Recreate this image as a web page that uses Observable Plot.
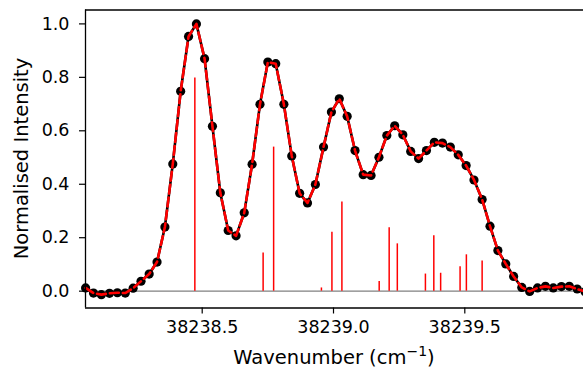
<!DOCTYPE html>
<html>
<head>
<meta charset="utf-8">
<script src="https://cdn.jsdelivr.net/npm/d3@7"></script>
<script src="https://cdn.jsdelivr.net/npm/@observablehq/plot@0.6"></script>
<style>
  html, body { margin: 0; padding: 0; background: white; }
  #chart svg { display: block; }
</style>
</head>
<body>
<div id="chart"></div>
<script>
// Measured spectrum (black dots) and fit (red dashed)
const wavenumber = [
  38238.056, 38238.086, 38238.116, 38238.147, 38238.177, 38238.207, 38238.237, 38238.267,
  38238.298, 38238.328, 38238.358, 38238.388, 38238.418, 38238.448, 38238.478, 38238.509,
  38238.539, 38238.569, 38238.599, 38238.629, 38238.660, 38238.690, 38238.720, 38238.750,
  38238.780, 38238.811, 38238.841, 38238.871, 38238.901, 38238.931, 38238.962, 38238.992,
  38239.022, 38239.052, 38239.082, 38239.113, 38239.143, 38239.173, 38239.203, 38239.233,
  38239.264, 38239.294, 38239.324, 38239.354, 38239.384, 38239.415, 38239.445, 38239.475,
  38239.505, 38239.535, 38239.566, 38239.596, 38239.626, 38239.656, 38239.686, 38239.717,
  38239.747, 38239.777, 38239.807, 38239.837, 38239.868, 38239.898, 38239.928, 38239.958
];
const intensity = [
  0.012, -0.007, -0.013, -0.008, -0.006, -0.007, 0.011, 0.037,
  0.064, 0.109, 0.240, 0.476, 0.748, 0.953, 1.000, 0.870,
  0.617, 0.368, 0.227, 0.207, 0.293, 0.475, 0.699, 0.857,
  0.851, 0.699, 0.506, 0.366, 0.330, 0.399, 0.539, 0.670,
  0.720, 0.654, 0.526, 0.436, 0.433, 0.501, 0.582, 0.619,
  0.585, 0.523, 0.496, 0.526, 0.557, 0.554, 0.539, 0.510,
  0.470, 0.416, 0.343, 0.243, 0.152, 0.102, 0.055, 0.014,
  -0.001, 0.012, 0.018, 0.012, 0.017, 0.018, 0.008, -0.002
];
const fitIntensity = intensity.slice();

// Stick spectrum (red vertical lines)
const stickWavenumber = [
  38238.472, 38238.732, 38238.772, 38238.954, 38238.994, 38239.032, 38239.174, 38239.212,
  38239.243, 38239.350, 38239.382, 38239.408, 38239.482, 38239.506, 38239.566
];
const stickIntensity = [
  0.798, 0.143, 0.539, 0.012, 0.220, 0.334, 0.036, 0.237,
  0.177, 0.064, 0.207, 0.067, 0.091, 0.136, 0.113
];

const xTicks = [38238.5, 38239.0, 38239.5];
const yTicks = [0.0, 0.2, 0.4, 0.6, 0.8, 1.0];

const xDomain = [38238.0556, 38239.952];
const yDomain = [-0.063, 1.052];

const spectrum = wavenumber.map((w, i) => ({w, v: intensity[i]}));
const fit = wavenumber.map((w, i) => ({w, v: fitIntensity[i]}));
const sticks = stickWavenumber.map((w, i) => ({w, v: stickIntensity[i]}));

const W = 583, H = 371, mL = 85, mR = 0, mT = 9.5, mB = 63.5;

const chart = Plot.plot({
  width: W, height: H,
  marginLeft: mL, marginRight: mR, marginTop: mT, marginBottom: mB,
  x: {domain: xDomain},
  y: {domain: yDomain},
  style: {fontFamily: "DejaVu Sans", fontSize: "17.5px", color: "black", background: "white", overflow: "hidden"},
  marks: [
    Plot.ruleY([0], {stroke: "#808080", strokeWidth: 1.3}),
    Plot.ruleX(sticks, {x: "w", y1: 0, y2: "v", stroke: "red", strokeWidth: 1.5}),
    Plot.line(spectrum, {x: "w", y: "v", stroke: "black", strokeWidth: 2.6}),
    Plot.dot(spectrum, {x: "w", y: "v", r: 4.6, fill: "black", stroke: null}),
    Plot.line(fit, {x: "w", y: "v", stroke: "red", strokeWidth: 2.6, strokeDasharray: "9,4"}),
    Plot.axisX({ticks: xTicks, tickFormat: d3.format(".1f"), tickSize: 6, tickPadding: 7, label: null, strokeWidth: 1.2}),
    Plot.axisY({ticks: yTicks, tickFormat: d3.format(".1f"), tickSize: 6, tickPadding: 10, label: null, strokeWidth: 1.2}),
    Plot.ruleX([xDomain[0]], {stroke: "black", strokeWidth: 1.3}),
    Plot.ruleY([yDomain[0]], {stroke: "black", strokeWidth: 1.3}),
    Plot.ruleY([yDomain[1]], {stroke: "black", strokeWidth: 1.3})
  ]
});

const svg = d3.select(chart);
// y axis title
svg.append("text")
  .attr("transform", `translate(22,${(mT + (H - mB)) / 2}) rotate(-90)`)
  .attr("text-anchor", "middle")
  .attr("dominant-baseline", "middle")
  .attr("font-family", "DejaVu Sans")
  .attr("font-size", 19.5)
  .attr("fill", "black")
  .text("Normalised Intensity");
// x axis title with superscript
const xl = svg.append("text")
  .attr("x", (mL + W - mR) / 2)
  .attr("y", 364)
  .attr("text-anchor", "middle")
  .attr("font-family", "DejaVu Sans")
  .attr("font-size", 19.5)
  .attr("fill", "black");
xl.append("tspan").text("Wavenumber (cm");
xl.append("tspan").attr("dy", -8).attr("font-size", 14).text("\u22121");
xl.append("tspan").attr("dy", 8).text(")");

document.getElementById("chart").appendChild(chart);
</script>
</body>
</html>
